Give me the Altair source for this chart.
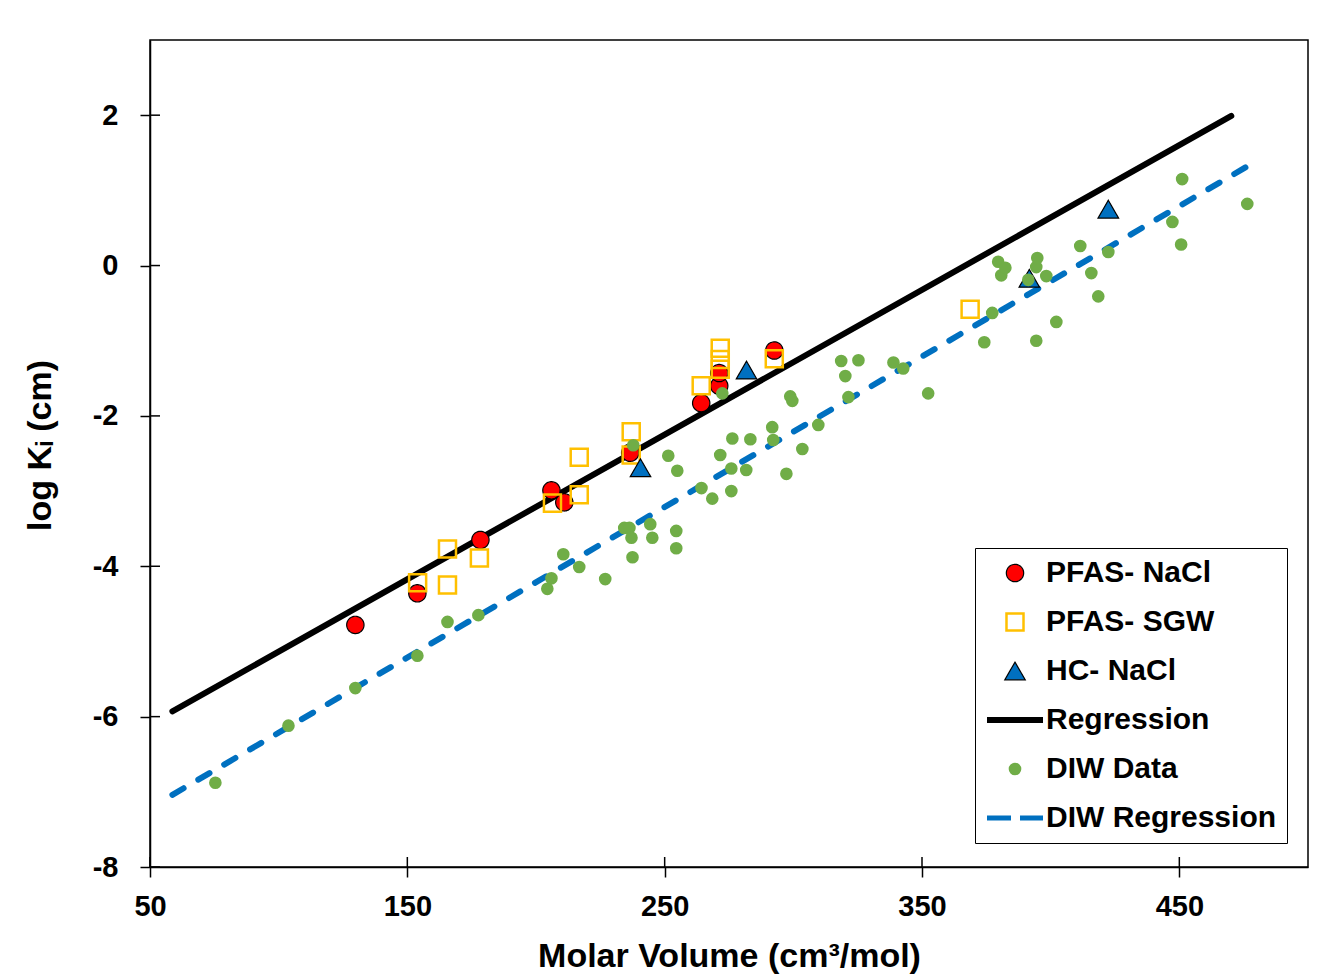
import altair as alt
import pandas as pd

# ---- axis ticks ----
x_ticks = [50, 150, 250, 350, 450]
y_ticks = [-8, -6, -4, -2, 0, 2]

series_names = ["PFAS- NaCl", "PFAS- SGW", "HC- NaCl", "Regression", "DIW Data", "DIW Regression"]

# ---- PFAS in NaCl (red circles) ----
nacl_x = [129.8, 153.9, 178.4, 206.0, 211.0, 236.6, 264.2, 271.2, 271.2, 292.6]
nacl_y = [-4.78, -4.36, -3.65, -2.99, -3.15, -2.49, -1.83, -1.60, -1.43, -1.13]

# ---- PFAS in SGW (yellow open squares) ----
sgw_x = [154.0, 165.6, 165.6, 178.0, 206.4, 216.8, 216.8, 237.0, 237.0, 264.2, 271.6, 271.6, 271.6, 292.6, 368.7]
sgw_y = [-4.22, -3.77, -4.25, -3.89, -3.16, -2.55, -3.05, -2.21, -2.52, -1.60, -1.10, -1.25, -1.38, -1.24, -0.58]

# ---- HC in NaCl (blue triangles) ----
hc_x = [240.6, 281.8, 391.7, 422.4]
hc_y = [-2.69, -1.39, -0.17, 0.75]

# ---- DIW data (green dots) ----
diw_x = [75.4, 103.8, 129.8, 153.9, 165.6, 177.6, 204.4, 206.0, 210.6, 216.8,
         226.9, 234.3, 236.3, 237.1, 237.5, 237.8, 244.4, 245.2, 251.4, 254.5,
         254.5, 254.9, 264.3, 268.5, 272.4, 271.6, 275.9, 275.9, 276.3, 281.7,
         283.3, 291.8, 292.2, 297.3, 298.8, 299.6, 303.5, 309.7, 318.6, 320.2,
         321.4, 325.3, 338.9, 342.7, 352.4, 374.2, 377.3, 379.6, 380.8, 382.4,
         391.3, 394.4, 394.8, 394.4, 398.3, 402.2, 411.5, 415.8, 418.5, 422.4,
         447.3, 450.7, 451.1, 476.4]
diw_y = [-6.88, -6.12, -5.62, -5.19, -4.74, -4.65, -4.30, -4.16, -3.84, -4.01,
         -4.17, -3.49, -3.49, -3.62, -3.88, -2.39, -3.44, -3.62, -2.53, -3.53,
         -3.76, -2.73, -2.96, -3.10, -1.70, -2.52, -3.00, -2.70, -2.30, -2.72,
         -2.31, -2.15, -2.32, -2.77, -1.74, -1.80, -2.44, -2.12, -1.27, -1.47,
         -1.75, -1.26, -1.29, -1.37, -1.70, -1.02, -0.63, 0.05, -0.13, -0.03,
         -0.19, -0.02, 0.10, -1.00, -0.14, -0.75, 0.26, -0.10, -0.41, 0.18,
         0.58, 0.28, 1.15, 0.82]

# ---- regression lines (end points) ----
reg_x = [58.7, 470.2]
reg_y = [-5.93, 1.99]
diwreg_x = [58.7, 477.2]
diwreg_y = [-7.04, 1.335]

FONT = "Liberation Sans, Arial, sans-serif"

pts = pd.concat([
    pd.DataFrame({"x": nacl_x, "y": nacl_y, "s": series_names[0]}),
    pd.DataFrame({"x": sgw_x, "y": sgw_y, "s": series_names[1]}),
    pd.DataFrame({"x": hc_x, "y": hc_y, "s": series_names[2]}),
    pd.DataFrame({"x": diw_x, "y": diw_y, "s": series_names[4]}),
], ignore_index=True)

reg_df = pd.DataFrame({"x": reg_x, "y": reg_y})
diwreg_df = pd.DataFrame({"x": diwreg_x, "y": diwreg_y})
xt_df = pd.DataFrame({"v": x_ticks})
yt_df = pd.DataFrame({"v": y_ticks})

xscale = alt.Scale(domain=[50, 500], nice=False, zero=False)
yscale = alt.Scale(domain=[-8, 3], nice=False, zero=False)

xaxis = alt.Axis(values=x_ticks, title="Molar Volume (cm³/mol)", grid=False,
                 tickSize=10, tickWidth=1.5, tickColor="black",
                 domainColor="black", domainWidth=1.5,
                 labelFont=FONT, labelFontSize=29, labelFontWeight="bold", labelColor="black",
                 labelPadding=15, labelFlush=False, labelExpr="datum.value + ''",
                 titleFont=FONT, titleFontSize=34, titleFontWeight="bold", titleColor="black",
                 titleX=579, titleY=99, titleBaseline="alphabetic")
yaxis = alt.Axis(values=y_ticks, title="log Kᵢ (cm)", grid=False,
                 tickSize=10, tickWidth=1.5, tickColor="black",
                 domainColor="black", domainWidth=1.5,
                 labelFont=FONT, labelFontSize=29, labelFontWeight="bold", labelColor="black",
                 labelPadding=22, labelFlush=False, labelExpr="datum.value + ''",
                 titleFont=FONT, titleFontSize=34, titleFontWeight="bold", titleColor="black",
                 titleX=-110, titleY=405, titleBaseline="middle", titleAngle=-90)

X = alt.X("x:Q", scale=xscale, axis=xaxis)
Y = alt.Y("y:Q", scale=yscale, axis=yaxis)

reg_line = alt.Chart(reg_df).mark_line(color="black", strokeWidth=6, strokeCap="round").encode(x=X, y=Y)
diw_line = alt.Chart(diwreg_df).mark_line(color="#0070C0", strokeWidth=6, strokeCap="round",
                                          strokeDash=[13, 17]).encode(x=X, y=Y)

legend = alt.Legend(title=None, orient="none", legendX=825, legendY=508, direction="vertical",
                    padding=10, strokeColor="black", fillColor="white",
                    labelFont=FONT, labelFontSize=30, labelFontWeight="bold", labelColor="black",
                    symbolOffset=15, labelOffset=16, rowPadding=19, labelLimit=500)

LINE_PATH = "M-2.8,0L2.8,0"
shape_range = ["circle", "square", "triangle-up", LINE_PATH, "circle", LINE_PATH]
fill_range = ["#FF0000", "rgba(255,255,255,0)", "#0070C0", "#000000", "#70AD47", "#0070C0"]
stroke_range = ["#000000", "#FFC000", "#000000", "#000000", "#70AD47", "#0070C0"]
sw_range = [1.2, 2.5, 1.2, 6, 0, 5]
size_range = [300, 290, 420, 400, 160, 400]
dash_range = [[1, 0], [1, 0], [1, 0], [1, 0], [1, 0], [24, 9]]

points = alt.Chart(pts).mark_point(filled=False, opacity=1).encode(
    x=X, y=Y,
    shape=alt.Shape("s:N", scale=alt.Scale(domain=series_names, range=shape_range), legend=legend),
    fill=alt.Fill("s:N", scale=alt.Scale(domain=series_names, range=fill_range), legend=legend),
    stroke=alt.Stroke("s:N", scale=alt.Scale(domain=series_names, range=stroke_range), legend=legend),
    strokeWidth=alt.StrokeWidth("s:N", scale=alt.Scale(type="ordinal", domain=series_names, range=sw_range), legend=legend),
    size=alt.Size("s:N", scale=alt.Scale(type="ordinal", domain=series_names, range=size_range), legend=legend),
    strokeDash=alt.StrokeDash("s:N", scale=alt.Scale(domain=series_names, range=dash_range), legend=legend),
    order=alt.Order("idx:Q"),
).transform_window(idx="row_number()")

y_in_ticks = alt.Chart(yt_df).mark_rule(color="black", strokeWidth=1.5).encode(
    y=alt.Y("v:Q", scale=yscale, axis=yaxis), x=alt.value(0), x2=alt.value(10))
x_in_ticks = alt.Chart(xt_df).mark_rule(color="black", strokeWidth=1.5).encode(
    x=alt.X("v:Q", scale=xscale, axis=xaxis), y=alt.value(827), y2=alt.value(817))

chart = alt.layer(reg_line, diw_line, points, y_in_ticks, x_in_ticks).properties(
    width=1158, height=827,
    autosize=alt.AutoSizeParams(type="none"),
    padding={"left": 150, "top": 40, "right": 31, "bottom": 110},
    background="white",
).configure_view(stroke="black", strokeWidth=1.5)

chart.save("out.html", embed_options={"renderer": "svg", "actions": False})
